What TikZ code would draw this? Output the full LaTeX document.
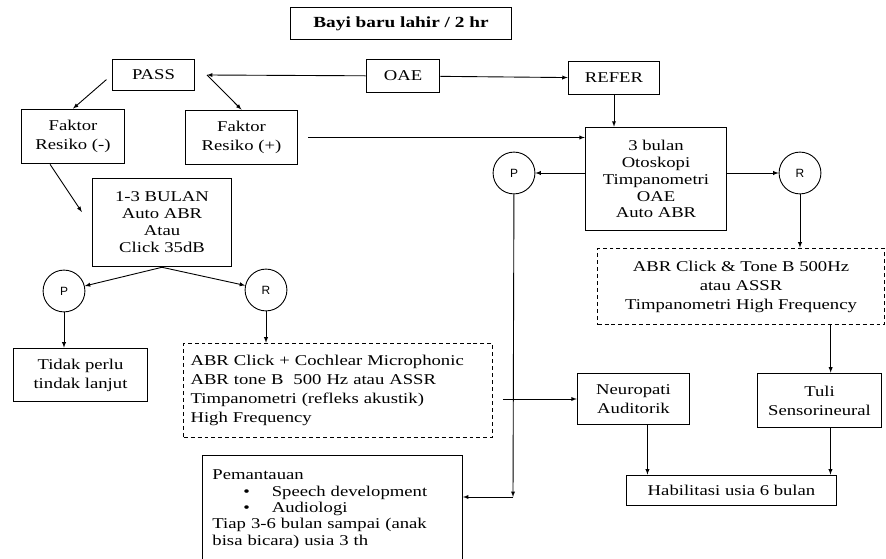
\documentclass[tikz,border=0pt]{standalone}
\usepackage{fontspec}
\setmainfont[FakeStretch=1.25]{Liberation Serif}
\newfontfamily\hurufsans{Liberation Sans}
\usetikzlibrary{arrows}

\begin{document}
\begin{tikzpicture}[x=1bp,y=-1bp,
		kotak/.style={draw,line width=0.9pt,align=center,inner sep=3pt,font=\fontsize{15}{17}\selectfont},
		putus/.style={kotak,dashed,dash pattern=on 4pt off 3pt},
		bulat/.style={circle,draw,line width=0.9pt,minimum size=42,inner sep=0pt,font=\hurufsans\fontsize{12}{14}\selectfont},
		panah/.style={-latex,line width=0.9pt}]
			\useasboundingbox (0,0) rectangle (886,559);
			
			% baris atas
			\node[kotak,minimum width=222,minimum height=33,font=\bfseries\fontsize{15.5}{17}\selectfont] (bayi) at (401,23.5) {Bayi baru lahir / 2 hr};
			\node[kotak,minimum width=83,minimum height=32] (pass) at (153.5,75) {PASS};
			\node[kotak,minimum width=74,minimum height=33] (oae) at (403,76) {OAE};
			\node[kotak,minimum width=92,minimum height=33] (refer) at (614,78) {REFER};
			\coordinate (simpul) at (207,75);
			
			% faktor resiko
			\node[kotak,minimum width=104,minimum height=55,font=\fontsize{15}{19}\selectfont] (fneg) at (73,136.5) {Faktor\\Resiko (-)};
			\node[kotak,minimum width=113,minimum height=55,font=\fontsize{15}{19}\selectfont] (fpos) at (241.5,137.5) {Faktor\\Resiko (+)};
			\node[kotak,minimum width=140,minimum height=89] (satu) at (162,222.5) {1-3 BULAN\\Auto ABR\\Atau\\Click 35dB};
			\node[kotak,minimum width=142,minimum height=104] (tiga) at (656,179) {3 bulan\\Otoskopi\\Timpanometri\\OAE\\Auto ABR};
			
			% lingkaran P dan R
			\node[bulat] (pL) at (64,291) {P};
			\node[bulat] (rL) at (266,290) {R};
			\node[bulat] (pR) at (514,173) {P};
			\node[bulat] (rR) at (800,173) {R};
			
			% hasil
			\node[kotak,minimum width=135,minimum height=54,font=\fontsize{15}{19}\selectfont] (tidak) at (80.5,375) {Tidak perlu\\tindak lanjut};
			\node[putus,minimum width=310,minimum height=95,text width=296,align=left,font=\fontsize{15}{19}\selectfont] (dashL) at (338,390.5) {ABR Click + Cochlear Microphonic\\ABR tone B\ \ 500 Hz atau ASSR\\Timpanometri (refleks akustik)\\High Frequency};
			\node[putus,minimum width=288,minimum height=77,font=\fontsize{15}{19}\selectfont] (dashR) at (741,286.5) {ABR Click \& Tone B 500Hz\\atau ASSR\\Timpanometri High Frequency};
			\node[kotak,minimum width=113,minimum height=52,font=\fontsize{15}{19}\selectfont] (neuro) at (633.5,399) {Neuropati\\Auditorik};
			\node[kotak,minimum width=125,minimum height=55,font=\fontsize{15}{19}\selectfont] (tuli) at (819.5,400.5) {Tuli\\Sensorineural};
			\node[kotak,minimum width=211,minimum height=31] (habil) at (731.5,490.5) {Habilitasi usia 6 bulan};
			\node[kotak,anchor=north,minimum width=261,minimum height=108,text width=241,align=left,inner xsep=10pt,inner ysep=7pt,font=\fontsize{15}{16.5}\selectfont] (pantau) at (332.5,455) {Pemantauan\\
				\hspace*{31pt}\textbullet\hspace{22pt}Speech development\\
				\hspace*{31pt}\textbullet\hspace{22pt}Audiologi\\
				Tiap 3-6 bulan sampai (anak\\bisa bicara) usia 3 th};
			\coordinate (sudut) at (513,497);
			
			% panah
			\draw[panah] (oae) -- (simpul);
			\draw[panah] (oae) -- (refer);
			\draw[panah] (simpul) -- (fpos.north);
			\draw[panah,shorten <=7pt] (pass.west) -- (fneg.north);
			\draw[panah] (refer) -- (refer |- tiga.north);
			\draw[panah,shorten <=10pt] (fpos.east) -- (fpos.east -| tiga.west);
			\draw[panah] (tiga.west |- pR) -- (pR);
			\draw[panah] (tiga.east |- rR) -- (rR);
			\draw[panah] (rR) -- (rR |- dashR.north);
			\draw[panah] ([xshift=90]dashR.south) -- ([xshift=90]dashR.south |- tuli.north);
			\draw[panah] ([xshift=-23]fneg.south) -- ([xshift=-10,yshift=10.5]satu.west);
			\draw[panah] (satu.south) -- (pL);
			\draw[panah] (satu.south) -- (rL);
			\draw[panah] (pL) -- (pL |- tidak.north);
			\draw[panah] (rL) -- (rL |- dashL.north);
			\draw[panah] ([xshift=10]dashL.east |- neuro.west) -- (neuro.west);
			\draw[panah] ([xshift=14]neuro.south) -- ([xshift=14]neuro.south |- habil.north);
			\draw[panah] ([xshift=11]tuli.south) -- ([xshift=11]tuli.south |- habil.north);
			\draw[panah] (pR) -- (sudut);
			\draw[panah] (sudut) -- (sudut -| pantau.east);
			
		\end{tikzpicture}
\end{document}
